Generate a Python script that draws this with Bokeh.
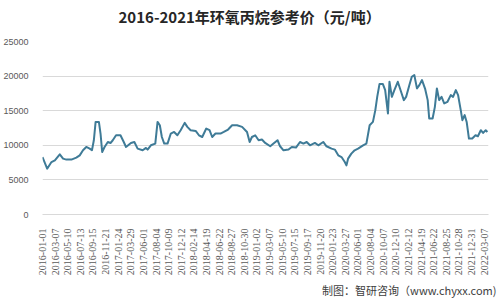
from bokeh.plotting import figure
from bokeh.models import Range1d, FixedTicker, Title
from bokeh.embed import file_html
from bokeh.resources import INLINE
import math

# x positions in units of the axis-label interval (0 = 2016-01-01, 35 = 2022-03-07)
t = [0.00, 0.37, 0.71, 0.98, 1.37, 1.63, 1.89, 2.29, 2.68, 2.95,
     3.21, 3.47, 3.74, 3.92, 4.07, 4.21, 4.47, 4.60, 4.73, 4.92,
     5.18, 5.39, 5.57, 5.83, 6.18, 6.44, 6.62, 7.01, 7.28, 7.54,
     7.94, 8.20, 8.33, 8.59, 8.94, 9.12, 9.30, 9.46, 9.65, 9.91,
     10.17, 10.43, 10.69, 10.95, 11.27, 11.48, 11.74, 12.14, 12.40, 12.66,
     12.98, 13.24, 13.45, 13.71, 14.11, 14.37, 14.71, 15.03, 15.42, 15.82,
     16.21, 16.42, 16.60, 16.86, 17.13, 17.39, 17.65, 18.05, 18.31, 18.63,
     18.83, 19.10, 19.50, 19.76, 20.09, 20.41, 20.68, 20.94, 21.20, 21.59,
     21.86, 22.25, 22.51, 22.91, 23.17, 23.44, 23.70, 23.96, 24.09, 24.22,
     24.48, 24.74, 25.01, 25.41, 25.67, 25.93, 26.19, 26.38, 26.53, 26.71,
     26.98, 27.16, 27.38, 27.50, 27.69, 27.89, 28.16, 28.42, 28.64, 28.82,
     29.08, 29.27, 29.47, 29.68, 29.87, 30.08, 30.32, 30.53, 30.65, 30.92,
     31.10, 31.26, 31.44, 31.63, 31.84, 32.10, 32.36, 32.54, 32.76, 32.94,
     33.15, 33.28, 33.46, 33.62, 33.80, 34.06, 34.32, 34.51, 34.74, 34.92,
     35.13, 35.26]

price = [8300, 6620, 7580, 7830, 8700, 8070, 7930, 7930, 8220, 8550,
         9280, 9760, 9520, 9280, 10730, 13380, 13380, 11700, 9030, 9760,
         10480, 10330, 10730, 11450, 11450, 10480, 9760, 10340, 10480, 9520,
         9280, 9620, 9380, 10000, 10250, 13380, 12900, 11200, 10250, 10250,
         11700, 11930, 11450, 12180, 13240, 12660, 12180, 12080, 11450, 11200,
         12420, 12180, 11200, 11700, 11700, 11930, 12280, 12900, 12900, 12660,
         11930, 10480, 11200, 11450, 10730, 10830, 10340, 9860, 10250, 10730,
         9860, 9280, 9380, 9760, 9670, 10480, 10250, 10480, 10000, 10340,
         10000, 10480, 9860, 9520, 9380, 8550, 8300, 7580, 7100, 8070,
         8800, 9280, 9520, 10000, 10250, 12900, 13380, 15080, 17000, 18850,
         18850, 17980, 14600, 19180, 17000, 17980, 19180, 17730, 16530, 17000,
         18700, 19900, 20150, 18220, 18700, 19430, 18200, 16530, 13880, 13880,
         15560, 18220, 16530, 17000, 16050, 16290, 17250, 17000, 17980, 17250,
         15080, 13630, 14360, 13380, 10980, 10980, 11450, 11310, 12180, 11790,
         12180, 11930]

tick_labels = ["2016-01-01", "2016-03-07", "2016-05-10", "2016-07-13", "2016-09-15",
               "2016-11-21", "2017-01-24", "2017-03-29", "2017-06-01", "2017-08-04",
               "2017-10-09", "2017-12-12", "2018-02-14", "2018-04-19", "2018-06-22",
               "2018-08-27", "2018-10-30", "2019-01-02", "2019-03-07", "2019-05-10",
               "2019-07-15", "2019-09-17", "2019-11-20", "2020-01-23", "2020-03-27",
               "2020-06-01", "2020-08-04", "2020-10-07", "2020-12-10", "2021-02-12",
               "2021-04-19", "2021-06-22", "2021-08-25", "2021-10-28", "2021-12-31",
               "2022-03-07"]

y_ticks = [0, 5000, 10000, 15000, 20000, 25000]

title_text = "2016-2021年环氧丙烷参考价（元/吨）"
source_text = "制图：智研咨询（www.chyxx.com)"

p = figure(width=500, height=300, output_backend="svg", toolbar_location=None,
           x_range=Range1d(0, 35.35), y_range=Range1d(0, 25000),
           min_border_left=40, min_border_right=12, min_border_top=41,
           min_border_bottom=86, title=None)
p.outline_line_color = None
p.background_fill_color = "white"
p.border_fill_color = "white"

p.line(t, price, line_color="#3f7b97", line_width=2.0, line_join="round")

p.xgrid.grid_line_color = None
p.ygrid.grid_line_color = "#d9d9d9"
p.ygrid.grid_line_width = 1

p.yaxis.ticker = FixedTicker(ticks=y_ticks)
p.yaxis.axis_line_color = None
p.yaxis.major_tick_line_color = None
p.yaxis.minor_tick_line_color = None
p.yaxis.major_label_text_font = "Liberation Sans"
p.yaxis.major_label_text_font_size = "9px"
p.yaxis.major_label_text_color = "#595959"
p.yaxis.major_label_standoff = 8

p.xaxis.ticker = FixedTicker(ticks=list(range(len(tick_labels))))
p.xaxis.major_label_overrides = {i: s for i, s in enumerate(tick_labels)}
p.xaxis.major_label_orientation = math.pi / 2
p.xaxis.axis_line_color = "#d9d9d9"
p.xaxis.major_tick_line_color = None
p.xaxis.minor_tick_line_color = None
p.xaxis.major_label_text_font = "Liberation Serif"
p.xaxis.major_label_text_font_size = "10px"
p.xaxis.major_label_text_color = "#595959"
p.xaxis.major_label_standoff = 8

# spacer between frame and title, then the title itself
spacer = Title(text=" ", text_font_size="8px", standoff=0)
p.add_layout(spacer, "above")
main_title = Title(text=title_text, align="left", offset=76, standoff=7,
                   text_font="Noto Sans CJK SC", text_font_size="15px",
                   text_font_style="bold", text_color="#262626")
p.add_layout(main_title, "above")

src = Title(text=source_text, align="right", offset=-8, standoff=2,
            text_font="Noto Sans CJK SC", text_font_size="11px",
            text_font_style="normal", text_color="#404040")
p.add_layout(src, "below")

open("out.html", "w").write(file_html(p, INLINE))
